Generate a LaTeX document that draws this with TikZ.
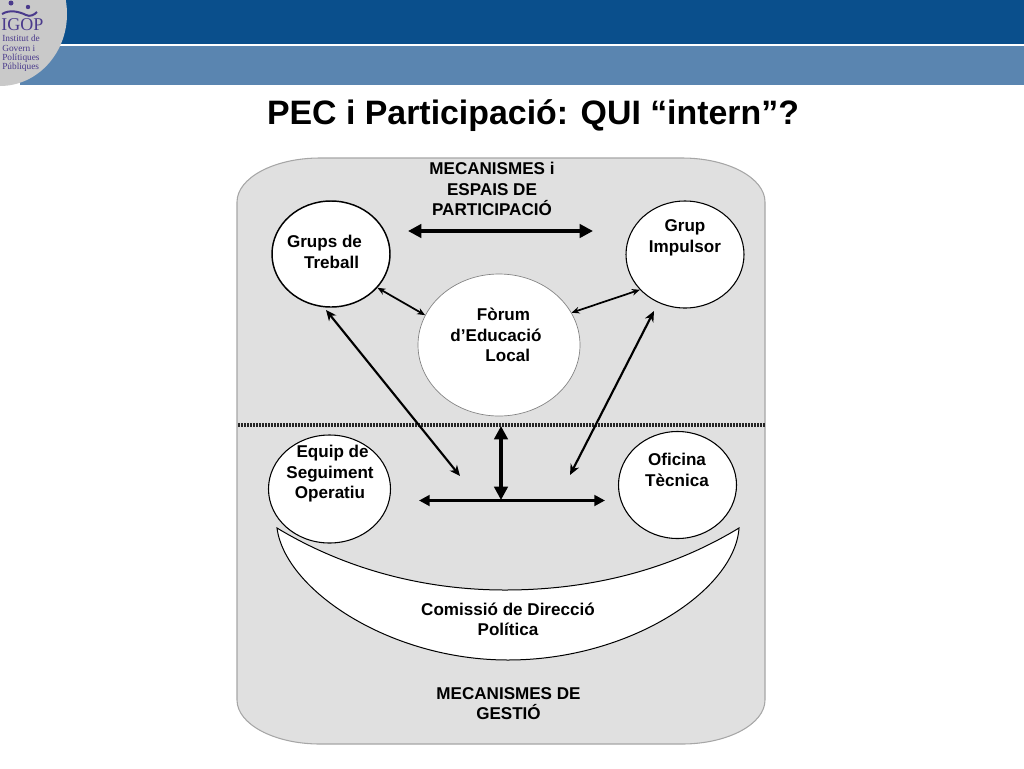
\documentclass[tikz,border=0pt]{standalone}
\usepackage{fontspec}
\setmainfont{Liberation Sans}
\newfontfamily\logofont{Liberation Serif}
\usetikzlibrary{positioning,arrows.meta,shapes.geometric}
\definecolor{bandDark}{HTML}{0A4F8C}
\definecolor{bandLight}{HTML}{5A85B0}
\definecolor{panelGray}{HTML}{E0E0E0}
\definecolor{logoGray}{HTML}{C9C9C9}
\definecolor{logoInk}{HTML}{4A3A8C}
\tikzset{
    circ/.style={draw,ellipse,fill=white,line width=0.8pt,inner sep=0pt},
    lbl/.style={font=\fontsize{12.8}{15.4}\selectfont\bfseries,align=center,inner sep=0pt},
    logotxt/.style={font=\logofont\fontsize{7}{7}\selectfont,text=logoInk,align=left,inner sep=0pt},
    arrow/.style={{Stealth[length=8pt,width=7pt]}-{Stealth[length=8pt,width=7pt]},line width=1.6pt},
    bigarrow/.style={{Stealth[length=10pt,width=10pt,inset=0pt]}-{Stealth[length=10pt,width=10pt,inset=0pt]}},
    midarrow/.style={{Stealth[length=8pt,width=8pt,inset=0pt]}-{Stealth[length=8pt,width=8pt,inset=0pt]}},
    smallarrow/.style={{Stealth[length=6pt,width=5pt]}-{Stealth[length=6pt,width=5pt]},line width=1.3pt}
}

\begin{document}
\begin{tikzpicture}[x=0.75pt,y=-0.75pt]
  \useasboundingbox (0,0) rectangle (1024,768);
  \clip (0,0) rectangle (1024,768);
  % header bands
  \fill[bandDark] (0,0) rectangle (1024,44);
  \fill[bandLight] (20,46) rectangle (1024,85);
  \fill[logoGray] (0,14) ellipse [x radius=67,y radius=72];
  % logo
  \fill[logoInk] (11,3) circle (2.5);
  \fill[logoInk] (28,7) circle (2.2);
  \draw[logoInk,line width=1.5pt] (2,14) .. controls (10,9) and (20,12) .. (26,15) .. controls (30,17) and (34,15) .. (37,12);
  \node[logotxt,font=\logofont\fontsize{13.5}{13.5}\selectfont,anchor=base west] (igop) at (1,30) {IGOP};
  \node[logotxt,anchor=north west] (inst) at (2,35) {Institut de\\Govern i\\Polítiques\\Públiques};
  % panel
  \filldraw[fill=panelGray,draw=black!35,line width=0.8pt] (320,158) -- (682,158)
     .. controls (728,158) and (765,178) .. (765,202) -- (765,700)
     .. controls (765,724) and (728,744) .. (682,744) -- (320,744)
     .. controls (274,744) and (237,724) .. (237,700) -- (237,202)
     .. controls (237,178) and (274,158) .. (320,158) -- cycle;
  \node[font=\fontsize{25.4}{28}\selectfont\bfseries,inner sep=0pt] (title) at (533,116) {PEC i Participació: QUI “intern”?};
  % separator
  \coordinate (sepL) at (238,425);
  \coordinate (sepR) at (765,425);
  \draw[line width=2.4pt,dash pattern=on 1.5pt off 0.75pt,black!85] (sepL) -- (sepR);
  % circles
  \node[circ,line width=1.1pt,minimum width=118*0.75pt,minimum height=106*0.75pt] (grups) at (331,254) {};
  \node[circ,minimum width=118*0.75pt,minimum height=107*0.75pt] (impulsor) at (685,254.5) {};
  \node[circ,draw=gray,line width=0.5pt,minimum width=162*0.75pt,minimum height=142*0.75pt] (forum) at (499,345) {};
  \node[circ,minimum width=122*0.75pt,minimum height=108*0.75pt] (equip) at (329.5,489) {};
  \node[circ,minimum width=118*0.75pt,minimum height=107*0.75pt] (oficina) at (677.5,485) {};
  % smile
  \filldraw[fill=white,draw=black,line width=0.75pt] (277,528) .. controls (350,572) and (430,590) .. (505,590)
     .. controls (590,590) and (670,570) .. (739,528)
     .. controls (735,590) and (630,660) .. (508,660)
     .. controls (390,660) and (285,590) .. (277,528) -- cycle;
  % labels
  \node[lbl] (mecP) at (492,189) {MECANISMES i\\ESPAIS DE\\PARTICIPACIÓ};
  \node[lbl,align=left] (lblGrups) at (324.5,252) {Grups de\\\hspace*{1em}Treball};
  \node[lbl] (lblImp) at (685,238) {Grup\\Impulsor};
  \node[lbl,align=left] (lblForum) at (496,335) {\hspace*{1.55em}Fòrum\\d’Educació\\\hspace*{2.05em}Local};
  \node[lbl] (lblEquip) at (330,474) {\hspace*{0.3em}Equip de\\Seguiment\\Operatiu};
  \node[lbl] (lblOf) at (677,470) {Oficina\\Tècnica};
  \node[lbl] (lblCom) at (508,619.5) {Comissió de Direcció\\Política};
  \node[lbl] (mecG) at (508.5,703.5) {MECANISMES DE\\GESTIÓ};
  % connectors
  \coordinate (mL) at (408,231);
  \coordinate (mR) at (593,231);
  \coordinate (hL) at (419,500.5);
  \coordinate (hR) at (605,500.5);
  \coordinate (hM) at (501,500);
  \coordinate (vT) at (501,426);
  \coordinate (aG) at (326,310);
  \coordinate (aGe) at (460,476);
  \coordinate (aI) at (654,311);
  \coordinate (aIe) at (570,475);
  \draw[bigarrow,line width=2.8pt] (mL) -- (mR);
  \draw[smallarrow] (grups.-36) -- (forum.158);
  \draw[smallarrow] (forum.24) -- (impulsor.218);
  \draw[arrow] (aG) -- (aGe);
  \draw[arrow] (aI) -- (aIe);
  \draw[bigarrow,line width=3.6pt] (vT) -- (hM);
  \draw[midarrow,line width=2.2pt] (hL) -- (hR);
\end{tikzpicture}
\end{document}
